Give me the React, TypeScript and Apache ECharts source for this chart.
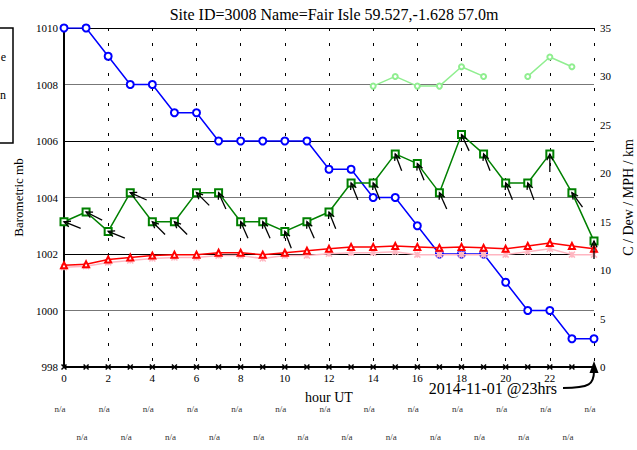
import React, { useEffect, useRef } from 'react';
import * as echarts from 'echarts';

const titleText = 'Site ID=3008 Name=Fair Isle 59.527,-1.628 57.0m';
const hours = [0, 1, 2, 3, 4, 5, 6, 7, 8, 9, 10, 11, 12, 13, 14, 15, 16, 17, 18, 19, 20, 21, 22, 23, 24];
const pressure = [1010, 1010, 1009, 1008, 1008, 1007, 1007, 1006, 1006, 1006, 1006, 1006, 1005, 1005, 1004, 1004, 1003, 1002, 1002, 1002, 1001, 1000, 1000, 999, 999];
const windSpeed = [15, 16, 14, 18, 15, 15, 18, 18, 15, 15, 14, 15, 16, 19, 19, 22, 21, 18, 24, 22, 19, 19, 22, 18, 13];
const windDir = [112, 117, 112, 114, 135, 135, 135, 156, 156, 156, 159, 156, 158, 158, 158, 159, 158, 156, 155, 159, 158, 160, 180, 144, 180];
const temperature = [10.5, 10.6, 11.1, 11.3, 11.5, 11.6, 11.6, 11.8, 11.8, 11.6, 11.8, 12.0, 12.2, 12.4, 12.4, 12.5, 12.4, 12.3, 12.4, 12.3, 12.2, 12.5, 12.8, 12.5, 12.2];
const dewPoint = [10.3, 10.4, 10.8, 11.0, 11.2, 11.3, 11.3, 11.5, 11.5, 11.2, 11.5, 11.5, 11.7, 11.8, 11.8, 11.9, 11.6, 11.6, 11.6, 11.6, 11.6, 11.9, 12.2, 11.6, 11.6];
const visibility = [null, null, null, null, null, null, null, null, null, null, null, null, null, null, 29, 30, 29, 29, 31, 30, null, 30, 32, 31, null];
const baseHours = [0, 1, 2, 3, 4, 5, 6, 7, 8, 9, 10, 11, 12, 13, 14, 15, 16, 17, 18, 19, 20, 21, 22, 23];
const baseValues = [0, 0, 0, 0, 0, 0, 0, 0, 0, 0, 0, 0, 0, 0, 0, 0, 0, 0, 0, 0, 0, 0, 0, 0];
const weatherLabels = ['n/a', 'n/a', 'n/a', 'n/a', 'n/a', 'n/a', 'n/a', 'n/a', 'n/a', 'n/a', 'n/a', 'n/a', 'n/a', 'n/a', 'n/a', 'n/a', 'n/a', 'n/a', 'n/a', 'n/a', 'n/a', 'n/a', 'n/a', 'n/a', 'n/a'];
const leftTicks = { min: 998, max: 1010, interval: 2 };
const rightTicks = { min: 0, max: 35, interval: 5 };
const dateNote = '2014-11-01 @23hrs';

const FONT = 'Liberation Serif';
const X_SYMBOL = 'path://M0,0L10,10M10,0L0,10';
const STAR_SYMBOL = 'path://M0,0L10,10M10,0L0,10M5,0L5,10';

export default function App() {
  const ref = useRef<HTMLDivElement>(null);
  useEffect(() => {
    const chart = echarts.init(ref.current!, null, { renderer: 'svg', width: 637, height: 450 });
    const pair = (vals: (number | null)[]) => hours.map((h, i) => [h, vals[i]]);
    const option: any = {
      animation: false,
      backgroundColor: '#fff',
      title: {
        text: titleText,
        left: 329,
        top: 1,
        textAlign: 'center',
        textStyle: { fontFamily: FONT, fontSize: 16, fontWeight: 'normal', color: '#000' },
      },
      grid: { left: 64, right: 43, top: 28, bottom: 83, containLabel: false, outerBoundsMode: 'none' },
      xAxis: [
        {
          type: 'value',
          min: 0,
          max: 24,
          interval: 2,
          name: 'hour UT',
          nameLocation: 'middle',
          nameGap: 23,
          nameTextStyle: { fontFamily: FONT, fontSize: 14, color: '#000' },
          axisLine: { show: true, onZero: false, lineStyle: { color: '#000', width: 2 } },
          axisTick: { show: false },
          axisLabel: {
            fontFamily: FONT,
            fontSize: 11,
            color: '#000',
            margin: 5,
            formatter: (v: number) => (v === 24 ? '' : String(v)),
          },
          splitLine: { show: true, lineStyle: { color: '#000', width: 1, type: [3, 12] } },
        },
        {
          type: 'value',
          position: 'top',
          min: 0,
          max: 24,
          axisLine: { show: true, onZero: false, lineStyle: { color: '#000', width: 1 } },
          axisTick: { show: false },
          axisLabel: { show: false },
          splitLine: { show: false },
        },
      ],
      yAxis: [
        {
          type: 'value',
          min: leftTicks.min,
          max: leftTicks.max,
          interval: leftTicks.interval,
          name: 'Barometric mb',
          nameLocation: 'middle',
          nameGap: 37,
          nameTextStyle: { fontFamily: FONT, fontSize: 13, color: '#000' },
          axisLine: { show: true, lineStyle: { color: '#000', width: 2 } },
          axisTick: { show: false },
          axisLabel: { fontFamily: FONT, fontSize: 11, color: '#000', margin: 6, formatter: (v: number) => String(v) },
          splitLine: { show: true, lineStyle: { color: ['#000', '#777'], width: 1 } },
        },
        {
          type: 'value',
          position: 'right',
          min: rightTicks.min,
          max: rightTicks.max,
          interval: rightTicks.interval,
          name: 'C / Dew / MPH / km',
          nameLocation: 'middle',
          nameGap: 22,
          nameRotate: 90,
          nameTextStyle: { fontFamily: FONT, fontSize: 14, color: '#000' },
          axisLine: { show: true, lineStyle: { color: '#000', width: 2 } },
          axisTick: { show: false },
          axisLabel: { fontFamily: FONT, fontSize: 11, color: '#000', margin: 6 },
          splitLine: { show: false },
        },
      ],
      series: [
        {
          name: 'Visibility',
          type: 'line',
          yAxisIndex: 1,
          data: pair(visibility),
          connectNulls: false,
          symbol: 'emptyCircle',
          symbolSize: 5,
          lineStyle: { color: '#90ee90', width: 1.5 },
          itemStyle: { color: '#90ee90', borderColor: '#90ee90', borderWidth: 1.5 },
          z: 2,
        },
        {
          name: 'Pressure',
          type: 'line',
          yAxisIndex: 0,
          data: pair(pressure),
          symbol: 'emptyCircle',
          symbolSize: 7,
          lineStyle: { color: '#0000ff', width: 1.5 },
          itemStyle: { color: '#0000ff', borderColor: '#0000ff', borderWidth: 1.5 },
          z: 3,
        },
        {
          name: 'Dew',
          type: 'line',
          yAxisIndex: 1,
          data: pair(dewPoint),
          symbol: STAR_SYMBOL,
          symbolSize: 6,
          lineStyle: { color: '#ffb6c1', width: 1.5 },
          itemStyle: { color: 'none', borderColor: '#ffb6c1', borderWidth: 1.5 },
          z: 4,
        },
        {
          name: 'Temp',
          type: 'line',
          yAxisIndex: 1,
          data: pair(temperature),
          symbol: 'emptyTriangle',
          symbolSize: 6,
          lineStyle: { color: '#ff0000', width: 1.5 },
          itemStyle: { color: '#ff0000', borderColor: '#ff0000', borderWidth: 1.5 },
          z: 5,
        },
        {
          name: 'Wind',
          type: 'line',
          yAxisIndex: 1,
          data: pair(windSpeed),
          symbol: 'emptyRect',
          symbolSize: 7,
          lineStyle: { color: '#008000', width: 1.5 },
          itemStyle: { color: '#008000', borderColor: '#008000', borderWidth: 1.5 },
          z: 6,
        },
        {
          name: 'WindDir',
          type: 'custom',
          yAxisIndex: 1,
          clip: false,
          z: 7,
          data: hours.map((h, i) => [h, windSpeed[i], windDir[i]]),
          renderItem: (params: any, api: any) => {
            const p = api.coord([api.value(0), api.value(1)]);
            const d = (api.value(2) * Math.PI) / 180;
            const L = 18;
            const tx = p[0] + L * Math.sin(d);
            const ty = p[1] - L * Math.cos(d);
            const bx = (tx - p[0]) / L;
            const by = (ty - p[1]) / L;
            const a = 0.45;
            const h = 7;
            const c = Math.cos(a);
            const s = Math.sin(a);
            const l1 = [p[0] + h * (bx * c - by * s), p[1] + h * (bx * s + by * c)];
            const l2 = [p[0] + h * (bx * c + by * s), p[1] + h * (-bx * s + by * c)];
            return {
              type: 'group',
              children: [
                { type: 'line', shape: { x1: tx, y1: ty, x2: p[0], y2: p[1] }, style: { stroke: '#000', lineWidth: 1.3 } },
                { type: 'polyline', shape: { points: [l1, p, l2] }, style: { stroke: '#000', lineWidth: 1.3, fill: null } },
              ],
            };
          },
        },
        {
          name: 'Base',
          type: 'line',
          yAxisIndex: 1,
          data: baseHours.map((h, i) => [h, baseValues[i]]),
          symbol: X_SYMBOL,
          symbolSize: 5,
          lineStyle: { color: '#000', width: 2 },
          itemStyle: { color: 'none', borderColor: '#000', borderWidth: 1.5 },
          z: 8,
        },
        {
          name: 'Weather',
          type: 'custom',
          yAxisIndex: 1,
          clip: false,
          z: 9,
          data: hours.map((h, i) => [h, i % 2]),
          renderItem: (params: any, api: any) => {
            const p = api.coord([api.value(0), 0]);
            const row = api.value(1);
            return {
              type: 'text',
              x: p[0] - 4,
              y: p[1] + (row ? 70 : 42),
              style: {
                text: weatherLabels[params.dataIndex],
                fontSize: 9,
                fontFamily: FONT,
                fill: '#333',
                align: 'center',
                verticalAlign: 'middle',
              },
            };
          },
        },
      ],
      graphic: [
        {
          type: 'rect',
          shape: { x: -10, y: 28, width: 23, height: 115 },
          style: { fill: '#fff', stroke: '#000', lineWidth: 1.5 },
          z: 20,
        },
        { type: 'text', x: 6, y: 57, style: { text: 'e', fontFamily: FONT, fontSize: 12, fill: '#000', align: 'right', verticalAlign: 'middle' }, z: 21 },
        { type: 'text', x: 6, y: 95, style: { text: 'n', fontFamily: FONT, fontSize: 12, fill: '#000', align: 'right', verticalAlign: 'middle' }, z: 21 },
        {
          type: 'text',
          x: 557,
          y: 388,
          style: { text: dateNote, fontFamily: FONT, fontSize: 16, fill: '#000', align: 'right', verticalAlign: 'middle' },
          z: 21,
        },
        {
          type: 'bezierCurve',
          shape: { x1: 563, y1: 388, x2: 594, y2: 371, cpx1: 590, cpy1: 388, cpx2: 594, cpy2: 384 },
          style: { stroke: '#000', lineWidth: 2, fill: null },
          z: 21,
        },
        {
          type: 'polygon',
          shape: { points: [[594, 361], [589.5, 373], [598.5, 373]] },
          style: { fill: '#000' },
          z: 21,
        },
      ],
    };
    chart.setOption(option);
    return () => chart.dispose();
  }, []);
  return <div ref={ref} style={{ position: 'fixed', left: 0, top: 0, width: 637, height: 450, background: '#fff' }} />;
}
